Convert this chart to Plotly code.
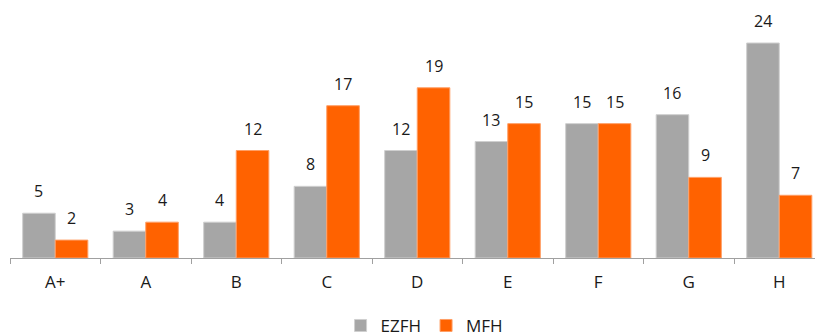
import plotly.graph_objects as go

categories = ["A+", "A", "B", "C", "D", "E", "F", "G", "H"]
ezfh = [5, 3, 4, 8, 12, 13, 15, 16, 24]
mfh = [2, 4, 12, 17, 19, 15, 15, 9, 7]

GREY = "#A6A6A6"
ORANGE = "#FF6200"
FONT = "Open Sans, Noto Sans, sans-serif"
TEXT = "#1A1A1A"

fig = go.Figure()
fig.add_bar(name="EZFH", x=categories, y=ezfh, marker=dict(color=GREY, line=dict(color="#CFCFCF", width=1)))
fig.add_bar(name="MFH", x=categories, y=mfh, marker=dict(color=ORANGE, line=dict(color="#FF9F66", width=1)))

bargap = 0.28
half = (1 - bargap) / 4
annotations = []
for i, (a, b) in enumerate(zip(ezfh, mfh)):
    for off, v in ((-half, a), (half, b)):
        annotations.append(dict(x=i + off, y=v, xref="x", yref="y", text=str(v),
                                showarrow=False, yanchor="middle", yshift=22,
                                font=dict(size=16, color=TEXT, family=FONT)))

fig.update_layout(
    width=815, height=336,
    margin=dict(l=10, r=0, t=0, b=78),
    barmode="group", bargap=bargap, bargroupgap=0,
    plot_bgcolor="white", paper_bgcolor="white",
    font=dict(family=FONT, size=17, color=TEXT),
    annotations=annotations,
    showlegend=True,
    legend=dict(orientation="h", x=0.515, xanchor="center", yref="container", y=0.03,
                yanchor="middle", font=dict(size=17, color=TEXT), itemwidth=30,
                tracegroupgap=0, traceorder="normal"),
    xaxis=dict(type="category", range=[-0.5, 8.395], showline=True, linecolor="#A0A0A0",
               linewidth=1, ticks="outside", tickson="boundaries", ticklen=5,
               tickcolor="#A0A0A0", ticklabelstandoff=9, showgrid=False,
               tickfont=dict(size=17, color=TEXT, family=FONT)),
    yaxis=dict(range=[0, 28.8], visible=False, showgrid=False, zeroline=False),
)

fig.write_html("out.html")
